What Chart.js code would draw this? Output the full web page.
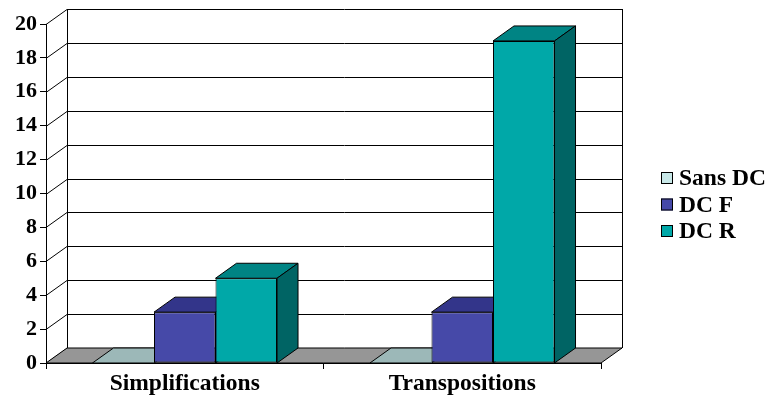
<!DOCTYPE html>
<html>
<head>
<meta charset="utf-8">
<script src="https://cdn.jsdelivr.net/npm/chart.js@4"></script>
<style>
  body { margin: 0; background: #fff; }
  #wrap { width: 770px; height: 399px; position: relative; }
</style>
</head>
<body>
<div id="wrap"><canvas id="chart"></canvas></div>
<script>
// Data
const categories = ['Simplifications', 'Transpositions'];
const seriesNames = ['Sans DC', 'DC F', 'DC R'];
const sansDC = [0, 0];
const dcF = [3, 3];
const dcR = [5, 19];
const yTicks = [0, 2, 4, 6, 8, 10, 12, 14, 16, 18, 20];

// Styles
const frontColors = ['#C8E8E8', '#4649A8', '#00A8A8'];
const topColors = ['#9CB8B8', '#33358A', '#008484'];
const sideColors = ['#7A9494', '#26286A', '#006464'];
const FAMILY = '"Liberation Serif", "Times New Roman", serif';
const TICK_FONT = { family: FAMILY, size: 22, weight: 'bold' };
const LABEL_FONT = { family: FAMILY, size: 23.5, weight: 'bold' };
const DX = 21, DY = -15; // depth offset of the 3D effect

function poly(ctx, pts, fill) {
  ctx.beginPath();
  ctx.moveTo(pts[0][0], pts[0][1]);
  for (let i = 1; i < pts.length; i++) ctx.lineTo(pts[i][0], pts[i][1]);
  ctx.closePath();
  if (fill) { ctx.fillStyle = fill; ctx.fill(); }
  ctx.stroke();
}

// Walls, floor and the top/side faces of the bars
const threeD = {
  id: 'threeD',
  beforeDatasetsDraw(chart) {
    const ctx = chart.ctx;
    const xs = chart.scales.x, ys = chart.scales.y;
    const left = xs.left, right = xs.right;
    const bottom = ys.getPixelForValue(0);
    const top = ys.getPixelForValue(yTicks[yTicks.length - 1]);
    ctx.save();
    ctx.strokeStyle = '#000';
    ctx.lineWidth = 1;

    // back wall frame and grid, side wall diagonals
    yTicks.forEach(v => {
      const py = Math.round(ys.getPixelForValue(v)) + 0.5;
      ctx.beginPath();
      ctx.moveTo(left, py);
      ctx.lineTo(left + DX, py + DY);
      ctx.lineTo(right + DX, py + DY);
      ctx.stroke();
    });
    ctx.beginPath();
    ctx.moveTo(left + DX + 0.5, top + DY);
    ctx.lineTo(left + DX + 0.5, bottom + DY);
    ctx.moveTo(right + DX + 0.5, top + DY);
    ctx.lineTo(right + DX + 0.5, bottom + DY);
    ctx.stroke();

    // floor
    poly(ctx, [[left, bottom], [right, bottom], [right + DX, bottom + DY], [left + DX, bottom + DY]], '#969696');

    // bar tops and sides, left to right
    categories.forEach((c, i) => {
      chart.data.datasets.forEach((ds, d) => {
        const bar = chart.getDatasetMeta(d).data[i];
        const x0 = bar.x - bar.width / 2, x1 = bar.x + bar.width / 2, by = bar.y;
        poly(ctx, [[x0, by], [x1, by], [x1 + DX, by + DY], [x0 + DX, by + DY]], topColors[d]);
        if (ds.data[i] > 0) {
          poly(ctx, [[x1, by], [x1 + DX, by + DY], [x1 + DX, bottom + DY], [x1, bottom]], sideColors[d]);
        }
      });
    });
    ctx.restore();
  },
  afterDraw(chart) {
    // legend on the right
    const ctx = chart.ctx;
    const rows = [178, 204.5, 231];
    ctx.save();
    ctx.font = `${LABEL_FONT.weight} ${LABEL_FONT.size}px ${LABEL_FONT.family}`;
    ctx.textBaseline = 'middle';
    ctx.textAlign = 'left';
    seriesNames.forEach((name, d) => {
      ctx.fillStyle = frontColors[d];
      ctx.fillRect(661, rows[d] - 6, 12, 12);
      ctx.strokeStyle = '#000';
      ctx.lineWidth = 1;
      ctx.strokeRect(661.5, rows[d] - 5.5, 11, 11);
      ctx.fillStyle = '#000';
      ctx.fillText(name, 679, rows[d] + 1);
    });
    ctx.restore();
  }
};

new Chart(document.getElementById('chart'), {
  type: 'bar',
  data: {
    labels: categories,
    datasets: [
      { label: seriesNames[0], data: sansDC, backgroundColor: frontColors[0] },
      { label: seriesNames[1], data: dcF, backgroundColor: frontColors[1] },
      { label: seriesNames[2], data: dcR, backgroundColor: frontColors[2] }
    ].map(ds => Object.assign(ds, {
      borderColor: '#000',
      borderWidth: 1,
      borderSkipped: false,
      categoryPercentage: 0.665,
      barPercentage: 1.0
    }))
  },
  options: {
    responsive: true,
    maintainAspectRatio: false,
    animation: false,
    layout: { padding: { top: 24, right: 169, left: 0, bottom: 0 } },
    plugins: {
      legend: { display: false },
      tooltip: { enabled: false }
    },
    scales: {
      x: {
        afterFit: s => { s.height = 36; },
        grid: { offset: true, drawOnChartArea: false, tickLength: 6, color: '#000' },
        border: { color: '#000' },
        ticks: { color: '#000', font: LABEL_FONT, padding: 1 }
      },
      y: {
        min: 0,
        max: 20,
        afterFit: s => { s.width = 46; },
        grid: { drawOnChartArea: false, tickLength: 6, color: '#000' },
        border: { color: '#000' },
        ticks: { stepSize: 2, color: '#000', font: TICK_FONT, padding: 3 }
      }
    }
  },
  plugins: [threeD]
});
</script>
</body>
</html>
